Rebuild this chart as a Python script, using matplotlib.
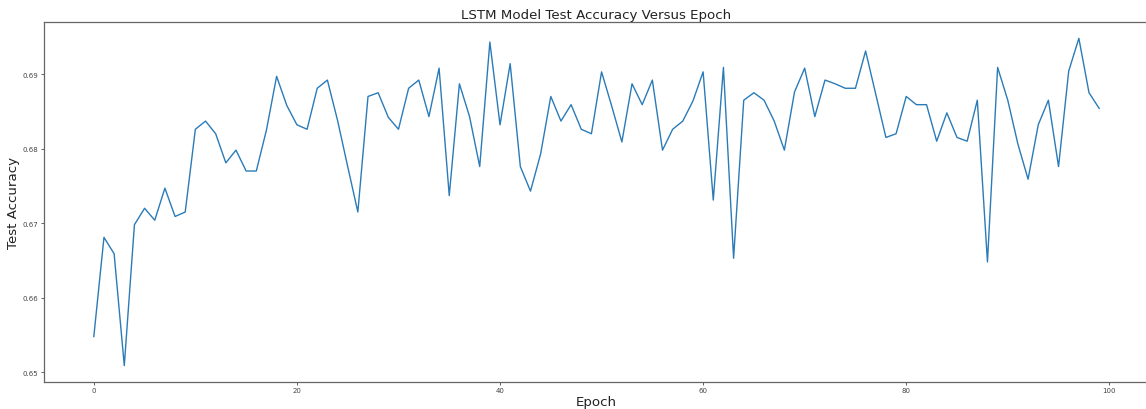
import matplotlib
matplotlib.use("Agg")
import matplotlib.pyplot as plt

epochs = list(range(100))
accuracy = [
    0.6548, 0.6681, 0.6659, 0.6509, 0.6698, 0.6720, 0.6704, 0.6747, 0.6709, 0.6715,
    0.6826, 0.6837, 0.6820, 0.6781, 0.6798, 0.6770, 0.6770, 0.6825, 0.6897, 0.6858,
    0.6832, 0.6826, 0.6881, 0.6892, 0.6838, 0.6776, 0.6715, 0.6870, 0.6875, 0.6842,
    0.6826, 0.6881, 0.6892, 0.6843, 0.6908, 0.6737, 0.6887, 0.6843, 0.6776, 0.6943,
    0.6832, 0.6914, 0.6776, 0.6743, 0.6793, 0.6870, 0.6837, 0.6859, 0.6826, 0.6820,
    0.6903, 0.6857, 0.6809, 0.6887, 0.6859, 0.6892, 0.6798, 0.6826, 0.6837, 0.6864,
    0.6903, 0.6731, 0.6909, 0.6653, 0.6865, 0.6875, 0.6865, 0.6837, 0.6798, 0.6876,
    0.6908, 0.6843, 0.6892, 0.6887, 0.6881, 0.6881, 0.6931, 0.6873, 0.6815, 0.6820,
    0.6870, 0.6859, 0.6859, 0.6810, 0.6848, 0.6815, 0.6810, 0.6865, 0.6648, 0.6909,
    0.6865, 0.6806, 0.6759, 0.6832, 0.6865, 0.6776, 0.6904, 0.6948, 0.6875, 0.6854,
]
x_ticks = [0, 20, 40, 60, 80, 100]
y_ticks = [0.65, 0.66, 0.67, 0.68, 0.69]

fig = plt.figure(figsize=(11.46, 4.10), dpi=100)
# axes extends slightly past the right edge, as in the cropped reference
ax = fig.add_axes([0.038, 0.066, 0.965, 0.878])
ax.plot(epochs, accuracy, color="#2a7bb8", linewidth=1.0)
ax.set_xticks(x_ticks)
ax.set_yticks(y_ticks)
ax.tick_params(labelsize=5, colors="#444444", length=2.2, width=0.6, pad=1.5)
for s in ax.spines.values():
    s.set_color("#666666")
    s.set_linewidth(0.9)
ax.spines["right"].set_visible(False)
ax.set_title("LSTM Model Test Accuracy Versus Epoch", fontsize=9.6, color="#222222", pad=2.5)
ax.set_xlabel("Epoch", fontsize=9.6, color="#222222")
ax.set_ylabel("Test Accuracy", fontsize=9.6, color="#222222")
ax.xaxis.set_label_coords(0.5, -0.036)
ax.yaxis.set_label_coords(-0.021, 0.5)
fig.savefig("out.png", dpi=100)
